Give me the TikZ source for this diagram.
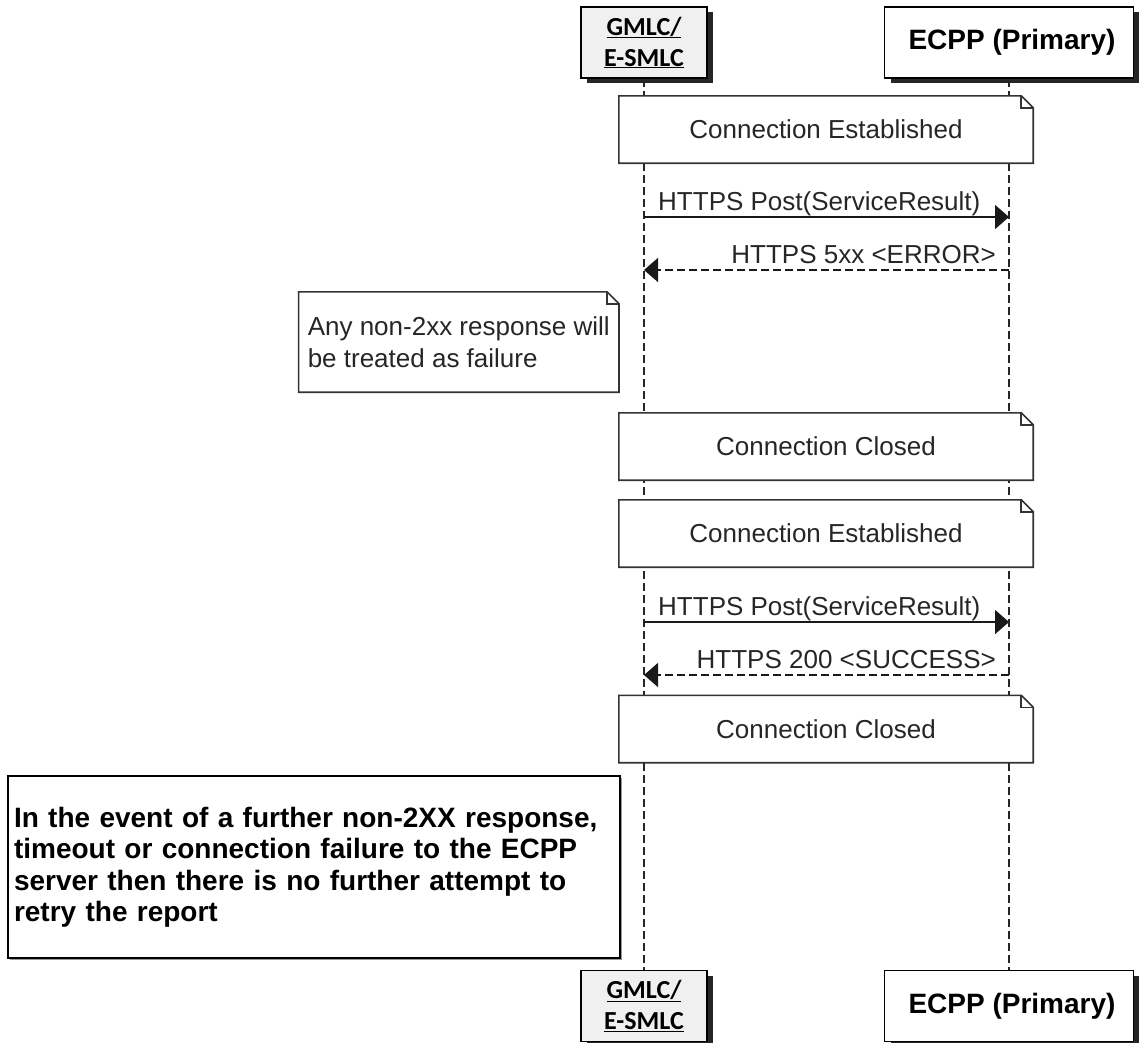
\documentclass[tikz,border=0pt]{standalone}
\usepackage{fontspec}
\setmainfont{Liberation Sans}
\newfontfamily\calibrifont{Carlito}
\usetikzlibrary{shadows,arrows.meta}

% lifeline x positions
\def\gx{644}
\def\ex{1009}

% outline of a note with a folded top-right corner
\newcommand\foldnote[1]{%
  \draw[noteline] (#1.south west) -- (#1.north west) -- ([xshift=-12pt]#1.north east)
    -- ([yshift=-12pt]#1.north east) -- (#1.south east) -- cycle;
  \draw[noteline] ([xshift=-12pt]#1.north east) |- ([yshift=-12pt]#1.north east);
}

\begin{document}
\begin{tikzpicture}[x=1pt,y=-1pt,
  actor/.style={draw=black, line width=1.6pt, inner sep=0pt, minimum height=71pt,
    drop shadow={shadow xshift=6pt, shadow yshift=-5pt, fill=black!85, opacity=1}},
  gmlc/.style={actor, fill=black!6, minimum width=126pt, align=center,
    font=\calibrifont\bfseries\fontsize{26}{31}\selectfont},
  ecpp/.style={actor, fill=white, minimum width=249pt,
    font=\bfseries\fontsize{28}{32}\selectfont},
  lifeline/.style={draw=black!85, line width=1.5pt, dash pattern=on 8pt off 4pt},
  notebody/.style={fill=white, inner sep=0pt, minimum width=414pt, minimum height=67pt,
    text=black!85, font=\fontsize{26}{32}\selectfont},
  noteline/.style={draw=black!80, line width=1.6pt, line join=miter},
  msg/.style={draw=black!90, line width=1.6pt, -{Triangle[length=14pt,width=24pt]}},
  reply/.style={msg, dash pattern=on 8pt off 4pt},
  lbl/.style={text=black!85, inner sep=0pt, font=\fontsize{26}{32}\selectfont},
  infobox/.style={draw=black, line width=1.3pt, fill=white, inner sep=6pt,
    minimum width=612pt, minimum height=182pt, text width=600pt, align=left,
    font=\bfseries\fontsize{28}{31.5}\selectfont,
    drop shadow={shadow xshift=2pt, shadow yshift=-2pt, fill=black!40, opacity=1}}
]
\useasboundingbox (0,0) rectangle (1139,1042);

% participants, top and bottom
\node[gmlc] (gtop) at (\gx,42.5) {\underline{GMLC/}\\\underline{E-SMLC}};
\node[ecpp] (etop) at (\ex,42.5) {\hspace{6pt}ECPP (Primary)};
\node[gmlc] (gbot) at (\gx,1006) {\underline{GMLC/}\\\underline{E-SMLC}};
\node[ecpp] (ebot) at (\ex,1006) {\hspace{6pt}ECPP (Primary)};

% lifelines
\draw[lifeline] (gtop.south) -- (gbot.north);
\draw[lifeline] (etop.south) -- (ebot.north);

% connection notes spanning both lifelines
\node[notebody] (est1) at (826,129.5) {Connection Established};
\foldnote{est1}
\node[notebody] (cls1) at (826,446.5) {Connection Closed};
\foldnote{cls1}
\node[notebody] (est2) at (826,533.5) {Connection Established};
\foldnote{est2}
\node[notebody] (cls2) at (826,729) {Connection Closed};
\foldnote{cls2}

% message end points on the lifelines
\coordinate (m1a) at (\gx,217);  \coordinate (m1b) at (\ex,217);
\coordinate (m2a) at (\ex,270);  \coordinate (m2b) at (\gx,270);
\coordinate (m3a) at (\gx,622);  \coordinate (m3b) at (\ex,622);
\coordinate (m4a) at (\ex,675);  \coordinate (m4b) at (\gx,675);

% first attempt
\draw[msg] (m1a) -- (m1b);
\node[lbl, anchor=base west] (l1) at (\gx+14,210) {HTTPS Post(ServiceResult)};
\draw[reply] (m2a) -- (m2b);
\node[lbl, anchor=base east] (l2) at (\ex-13,263) {HTTPS 5xx <ERROR>};

% failure note left of the GMLC lifeline
\node[notebody, minimum width=0pt, minimum height=100pt, inner xsep=9pt,
  align=left, anchor=east] (fail) at (619,342)
  {Any non-2xx response will\\be treated as failure};
\foldnote{fail}

% retry
\draw[msg] (m3a) -- (m3b);
\node[lbl, anchor=base west] (l3) at (\gx+14,615) {HTTPS Post(ServiceResult)};
\draw[reply] (m4a) -- (m4b);
\node[lbl, anchor=base east] (l4) at (\ex-13,668) {HTTPS 200 <SUCCESS>};

% closing remark
\node[infobox] (info) at (314,867)
  {In the event of a further non-2XX response, timeout or connection failure to the ECPP server then there is no further attempt to retry the report};
\end{tikzpicture}
\end{document}
